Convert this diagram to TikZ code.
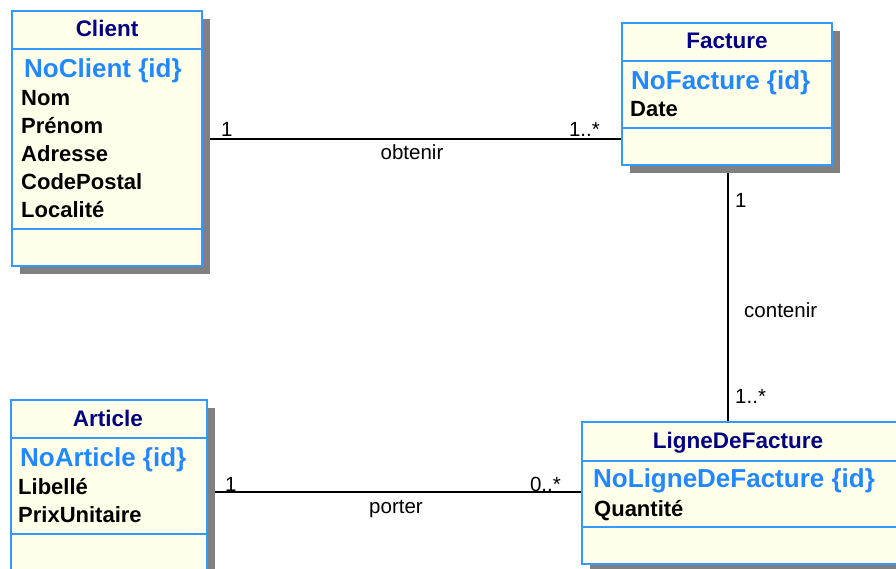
\documentclass[tikz,border=0pt]{standalone}
\usepackage{fontspec}
\setmainfont{Liberation Sans}
\usetikzlibrary{shadows,backgrounds}
\definecolor{boxfill}{RGB}{255,255,234}
\definecolor{umlborder}{RGB}{51,153,255}
\definecolor{idblue}{RGB}{34,136,255}
\definecolor{navy}{RGB}{0,0,128}
\definecolor{shadowgray}{RGB}{128,128,128}
\begin{document}
\begin{tikzpicture}[x=1pt,y=-1pt,
  umlbox/.style={draw=umlborder, line width=2pt, fill=boxfill, rectangle, anchor=north west,
    inner sep=0pt, outer sep=0pt,
    drop shadow={shadow xshift=8pt, shadow yshift=-8pt, fill=shadowgray, opacity=1}},
  sepline/.style={draw=umlborder, line width=2pt},
  ttl/.style={anchor=base, font=\bfseries\fontsize{22.5}{27}\selectfont, text=navy, inner sep=0pt},
  idattr/.style={anchor=base west, font=\bfseries\fontsize{26}{30}\selectfont, text=idblue, inner sep=0pt},
  attr/.style={anchor=base west, font=\bfseries\fontsize{22}{26}\selectfont, text=black, inner sep=0pt},
  lbl/.style={anchor=base, font=\fontsize{20.5}{24}\selectfont, inner sep=0pt},
  assoc/.style={draw=black, line width=1.8pt}
]
\useasboundingbox (0,0) rectangle (896,569);

% boxes
\node[umlbox, minimum width=190pt, minimum height=255pt] (client) at (12,11) {};
\node[umlbox, minimum width=210pt, minimum height=142pt] (facture) at (622,23) {};
\node[umlbox, minimum width=196pt, minimum height=190pt] (article) at (11,400) {};
\node[umlbox, minimum width=330pt, minimum height=142pt] (ligne) at (582,422) {};

% separators
\draw[sepline] (12,49) -- (202,49);
\draw[sepline] (12,229) -- (202,229);
\draw[sepline] (622,61) -- (832,61);
\draw[sepline] (622,128) -- (832,128);
\draw[sepline] (11,438) -- (207,438);
\draw[sepline] (11,534) -- (207,534);
\draw[sepline] (582,461) -- (912,461);
\draw[sepline] (582,527) -- (912,527);

% associations
\coordinate (ob) at (0,139);
\coordinate (ct) at (728,0);
\coordinate (po) at (0,492);
\begin{scope}[on background layer]
\fill[white] (0,0) rectangle (896,569);
\draw[assoc] (client.east |- ob) -- (facture.west |- ob);
\draw[assoc] (facture.south -| ct) -- (ligne.north -| ct);
\draw[assoc] (article.east |- po) -- (ligne.west |- po);
\end{scope}

% Client
\node[ttl] (clientT) at (107,37) {Client};
\node[idattr] (clientId) at (24,78) {NoClient \{id\}};
\node[attr] (clientA1) at (21,106) {Nom};
\node[attr] (clientA2) at (21,134) {Prénom};
\node[attr] (clientA3) at (21,162) {Adresse};
\node[attr] (clientA4) at (21,190) {CodePostal};
\node[attr] (clientA5) at (21,218) {Localité};

% Facture
\node[ttl] (factureT) at (727,49) {Facture};
\node[idattr] (factureId) at (631,90) {NoFacture \{id\}};
\node[attr] (factureA1) at (630,117) {Date};

% Article
\node[ttl] (articleT) at (108,426) {Article};
\node[idattr] (articleId) at (20,466) {NoArticle \{id\}};
\node[attr] (articleA1) at (18,494) {Libellé};
\node[attr] (articleA2) at (18,522) {PrixUnitaire};

% LigneDeFacture
\node[ttl] (ligneT) at (738,448) {LigneDeFacture};
\node[idattr] (ligneId) at (593,487) {NoLigneDeFacture \{id\}};
\node[attr] (ligneA1) at (594,516) {Quantité};

% labels
\node[lbl, anchor=base west] (ob1) at (221,137) {1};
\node[lbl, anchor=base east] (obm) at (600,137) {1..*};
\node[lbl] (obn) at (412,160) {obtenir};
\node[lbl, anchor=base west] (ct1) at (735,208) {1};
\node[lbl, anchor=base west] (ctn) at (744,317) {contenir};
\node[lbl, anchor=base west] (ctm) at (735,403) {1..*};
\node[lbl, anchor=base west] (po1) at (225,491) {1};
\node[lbl, anchor=base east] (pom) at (561,491) {0..*};
\node[lbl] (pon) at (396,513) {porter};
\end{tikzpicture}
\end{document}
